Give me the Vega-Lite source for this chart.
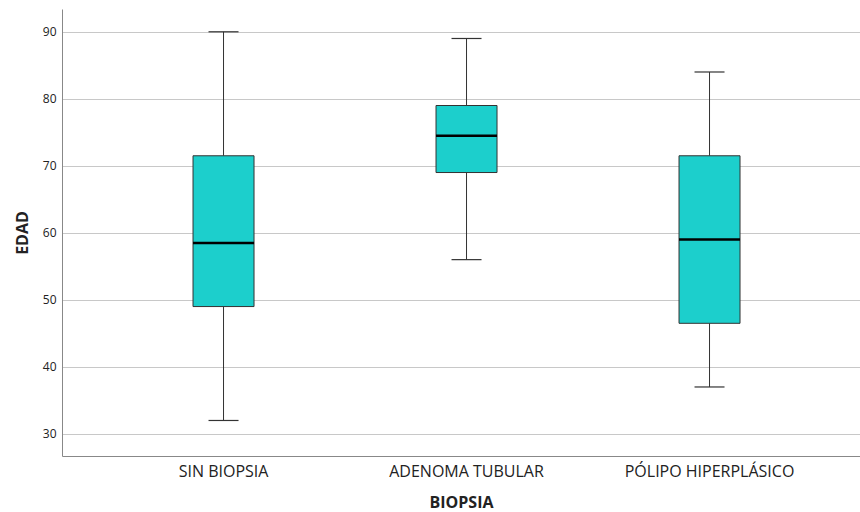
{
  "$schema": "https://vega.github.io/schema/vega-lite/v6.json",
  "width": 798,
  "height": 447,
  "autosize": {"type": "none"},
  "padding": {"left": 62, "top": 9, "right": 0, "bottom": 56},
  "background": "white",
  "config": {
    "view": {"stroke": null},
    "font": "Open Sans"
  },
  "data": {
    "values": [
      {"BIOPSIA": "SIN BIOPSIA", "lower": 32, "q1": 49, "median": 58.5, "q3": 71.5, "upper": 90},
      {"BIOPSIA": "ADENOMA TUBULAR", "lower": 56, "q1": 69, "median": 74.5, "q3": 79, "upper": 89},
      {"BIOPSIA": "PÓLIPO HIPERPLÁSICO", "lower": 37, "q1": 46.5, "median": 59, "q3": 71.5, "upper": 84}
    ]
  },
  "encoding": {
    "x": {
      "field": "BIOPSIA",
      "type": "nominal",
      "sort": ["SIN BIOPSIA", "ADENOMA TUBULAR", "PÓLIPO HIPERPLÁSICO"],
      "scale": {"paddingInner": 0, "paddingOuter": 0.142, "align": 0.58},
      "axis": {
        "title": "BIOPSIA",
        "labelAngle": 0,
        "labelFontSize": 16,
        "labelColor": "#222",
        "labelPadding": 7,
        "ticks": false,
        "domainColor": "#888",
        "titleFontSize": 16,
        "titleFontWeight": "bold",
        "titleColor": "#222",
        "titlePadding": 15,
        "grid": false
      }
    }
  },
  "layer": [
    {
      "mark": {"type": "rule", "color": "#333", "strokeWidth": 1},
      "encoding": {
        "y": {
          "field": "lower",
          "type": "quantitative",
          "scale": {"domain": [26.7, 93.4], "nice": false, "zero": false},
          "axis": {
            "title": "EDAD",
            "values": [30, 40, 50, 60, 70, 80, 90],
            "labelFontSize": 12,
            "labelColor": "#222",
            "ticks": false,
            "labelPadding": 6,
            "domainColor": "#888",
            "gridColor": "#c8c8c8",
            "gridWidth": 1,
            "titleFontSize": 16,
            "titleFontWeight": "bold",
            "titleColor": "#222",
            "titlePadding": 12
          }
        },
        "y2": {"field": "q1"}
      }
    },
    {
      "mark": {"type": "rule", "color": "#333", "strokeWidth": 1},
      "encoding": {
        "y": {"field": "q3", "type": "quantitative"},
        "y2": {"field": "upper"}
      }
    },
    {
      "mark": {"type": "bar", "size": 61, "fill": "#1ccfcc", "stroke": "#333", "strokeWidth": 1},
      "encoding": {
        "y": {"field": "q1", "type": "quantitative"},
        "y2": {"field": "q3"}
      }
    },
    {
      "mark": {"type": "tick", "size": 61, "thickness": 2.5, "color": "#000", "opacity": 1},
      "encoding": {
        "y": {"field": "median", "type": "quantitative"}
      }
    },
    {
      "mark": {"type": "tick", "size": 30, "thickness": 1.2, "color": "#333", "opacity": 1},
      "encoding": {
        "y": {"field": "lower", "type": "quantitative"}
      }
    },
    {
      "mark": {"type": "tick", "size": 30, "thickness": 1.2, "color": "#333", "opacity": 1},
      "encoding": {
        "y": {"field": "upper", "type": "quantitative"}
      }
    }
  ]
}
